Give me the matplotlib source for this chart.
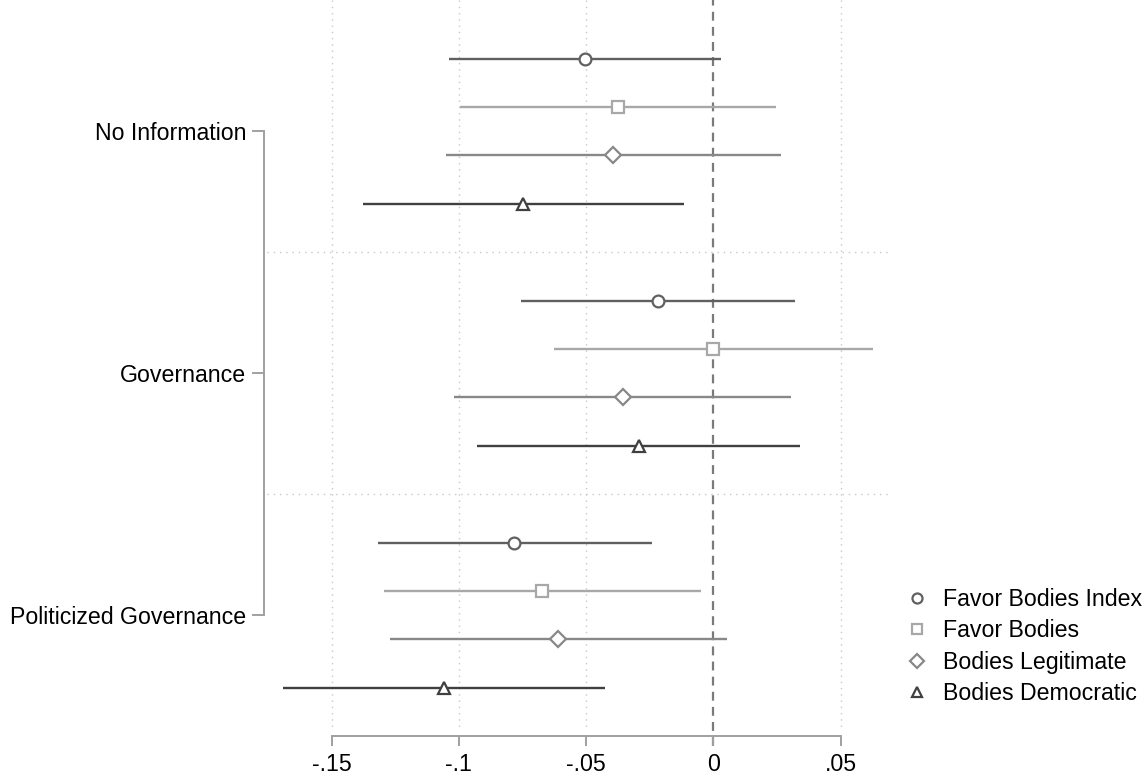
import matplotlib
matplotlib.use("Agg")
import matplotlib.pyplot as plt

# -----------------------
# Data
# -----------------------
groups = ["No Information", "Governance", "Politicized Governance"]
series = ["Favor Bodies Index", "Favor Bodies", "Bodies Legitimate", "Bodies Democratic"]

# point estimates, one list per series, in group order
est_index = [-0.0504, -0.0217, -0.0782]
est_favor = [-0.0373, 0.0000, -0.0673]
est_legit = [-0.0393, -0.0357, -0.0609]
est_democ = [-0.0747, -0.0293, -0.1060]

# confidence intervals
lo_index = [-0.1039, -0.0755, -0.1317]
hi_index = [0.0031, 0.0322, -0.0242]
lo_favor = [-0.0995, -0.0626, -0.1296]
hi_favor = [0.0247, 0.0626, -0.0048]
lo_legit = [-0.1051, -0.1018, -0.1269]
hi_legit = [0.0266, 0.0306, 0.0053]
lo_democ = [-0.1377, -0.0928, -0.1691]
hi_democ = [-0.0116, 0.0341, -0.0427]

xticks = [-0.15, -0.1, -0.05, 0, 0.05]
xticklabels = ["-.15", "-.1", "-.05", "0", ".05"]

# -----------------------
# Style
# -----------------------
plt.rcParams["font.family"] = ["Liberation Sans", "DejaVu Sans"]
FS = 16.7
AXCOL = "#a0a0a0"
colors = ["#606060", "#a8a8a8", "#888888", "#404040"]
markers = ["o", "s", "D", "^"]
msizes = [8.5, 8.5, 8.5, 9]

est = [est_index, est_favor, est_legit, est_democ]
lo = [lo_index, lo_favor, lo_legit, lo_democ]
hi = [hi_index, hi_favor, hi_legit, hi_democ]

fig = plt.figure(figsize=(11.46, 7.8), dpi=100)
ax = fig.add_axes([267 / 1146, 34 / 780, 623 / 1146, 746 / 780])

ax.set_xlim(-0.1754, 0.0694)
ax.set_ylim(15.2, -0.21)

# gridlines and separators
for xv in xticks:
    if xv != 0:
        ax.vlines(xv, -0.21, 14.87, colors="#c8c8c8", lw=1,
                  linestyles=(0, (1, 3.5)), zorder=0)
for g in range(1, len(groups)):
    ax.axhline(g * 5, color="#c8c8c8", lw=1, ls=(0, (1, 3.5)), zorder=0)
ax.axvline(0, color="#7a7a7a", lw=1.6, ls=(0, (4, 2.8)), zorder=1)

# estimates
handles = []
for s in range(len(series)):
    rows = [g * 5 + 1 + s for g in range(len(groups))]
    ax.hlines(rows, lo[s], hi[s], colors=colors[s], lw=1.7, zorder=2)
    h, = ax.plot(est[s], rows, ls="none", marker=markers[s], ms=msizes[s],
                 mfc="white", mec=colors[s], mew=1.6, zorder=3,
                 label=series[s])
    handles.append(h)

# axes
for side in ["top", "right"]:
    ax.spines[side].set_visible(False)
ax.spines["bottom"].set_position(("data", 15))
ax.spines["bottom"].set_bounds(-0.15, 0.05)
ax.spines["left"].set_position(("outward", 2.4))
ax.spines["left"].set_bounds(2.5, 12.5)
for side in ["bottom", "left"]:
    ax.spines[side].set_color(AXCOL)
    ax.spines[side].set_linewidth(1.4)

ax.set_xticks(xticks)
ax.set_xticklabels(xticklabels)
ax.set_yticks([g * 5 + 2.5 for g in range(len(groups))])
ax.set_yticklabels(groups)
ax.tick_params(axis="x", length=7.2, width=1.4, color=AXCOL, pad=5, labelsize=FS)
ax.tick_params(axis="y", length=8.6, width=1.4, color=AXCOL, pad=4, labelsize=FS)

ax.legend(handles=handles, loc="upper left", bbox_to_anchor=(905 / 1146, 1 - 588 / 780),
          bbox_transform=fig.transFigure, frameon=False, fontsize=FS,
          markerscale=0.85, handlelength=1.0, handletextpad=0.62,
          labelspacing=0.36, borderpad=0, borderaxespad=0)

fig.savefig("out.png", dpi=100)
